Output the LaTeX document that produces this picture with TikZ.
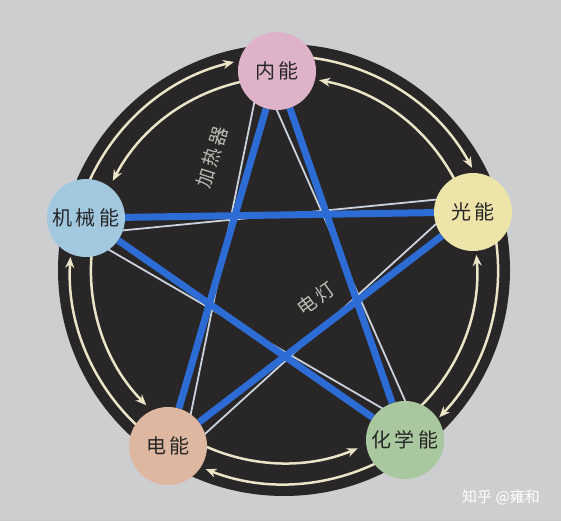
\documentclass[tikz,border=0pt]{standalone}
\usepackage{fontspec}
\newfontfamily\cjk[LetterSpace=16]{Noto Sans CJK SC}
\newfontfamily\cjkplain{Noto Sans CJK SC}
\usetikzlibrary{arrows.meta,calc}
\definecolor{paper}{HTML}{CCCECF}
\definecolor{disk}{HTML}{282626}
\definecolor{beamblue}{HTML}{2C6CD4}
\definecolor{raywhite}{HTML}{CAD2DE}
\definecolor{cream}{HTML}{EBE4C6}
\definecolor{taggray}{HTML}{BCBCB4}
\definecolor{neifill}{HTML}{DEB2C8}
\definecolor{guangfill}{HTML}{EDE4AA}
\definecolor{huafill}{HTML}{AAC8A0}
\definecolor{dianfill}{HTML}{DEB7A0}
\definecolor{jifill}{HTML}{A2C8E0}
\pgfdeclarelayer{bg}
\pgfsetlayers{bg,main}

\begin{document}
\begin{tikzpicture}[
x = 1pt, y = 1pt,
energy/.style={circle, minimum size = 78pt, inner sep = 0pt,
font = \cjk\fontsize{20}{20}\selectfont, text = black!85},
beam/.style={line width = 7, draw = beamblue},
ray/.style={line width = 1.8, draw = raywhite},
outarr/.style={>={Stealth[length=11pt,width=9pt]}, ->, line width = 2.5, draw = cream},
devlabel/.style={font = \cjk\fontsize{19}{19}\selectfont, text = taggray}]

\useasboundingbox (0,0) rectangle (561,521);
\coordinate (O) at (284,251);

\node[energy, fill = neifill] (nei) at (277,450) {内能};
\node[energy, fill = guangfill] (guang) at (473,309) {光能};
\node[energy, fill = huafill] (hua) at (405,81) {化学能};
\node[energy, fill = dianfill] (dian) at (168,75) {电能};
\node[energy, fill = jifill] (ji) at (86,303) {机械能};

\node[devlabel, rotate = 72] (heater) at (212,364) {加热器};
\node[devlabel, rotate = 36] (lamp) at (316,222) {电灯};
\node[font = \cjkplain\fontsize{15}{15}\selectfont, text = white] (mark) at (501,24) {知乎 @雍和};

\begin{pgfonlayer}{bg}
\fill[paper] (0,0) rectangle (561,521);
\fill[disk] (O) circle[radius = 226];

% outer ring, clockwise
\draw[outarr] (O) ++(165:214) arc[start angle = 165, end angle = 103.5, radius = 214];
\draw[outarr] (O) ++(92:214) arc[start angle = 92, end angle = 28.5, radius = 214];
\draw[outarr] (O) ++(17:214) arc[start angle = 17, end angle = -43.5, radius = 214];
\draw[outarr] (O) ++(-55:214) arc[start angle = -55, end angle = -111.5, radius = 214];
\draw[outarr] (O) ++(237:214) arc[start angle = 237, end angle = 176.5, radius = 214];
% inner ring, counterclockwise
\draw[outarr] (O) ++(92:193) arc[start angle = 92, end angle = 152.5, radius = 193];
\draw[outarr] (O) ++(17:193) arc[start angle = 17, end angle = 79.5, radius = 193];
\draw[outarr] (O) ++(-55:193) arc[start angle = -55, end angle = 4.5, radius = 193];
\draw[outarr] (O) ++(-123:193) arc[start angle = -123, end angle = -67.5, radius = 193];
\draw[outarr] (O) ++(165:193) arc[start angle = 165, end angle = 224.5, radius = 193];

% star
\draw[ray] ($(ji)!16pt!-90:(guang)$) -- ($(guang)!16pt!-90:(ji)$);
\draw[ray] ($(nei)!16pt!-90:(dian)$) -- ($(dian)!16pt!-90:(nei)$);
\draw[ray] ($(nei)!16pt!-90:(hua)$) -- ($(hua)!16pt!-90:(nei)$);
\draw[ray] ($(ji)!16pt!-90:(hua)$) -- ($(hua)!16pt!-90:(ji)$);
\draw[ray] ($(guang)!16pt!-90:(dian)$) -- ($(dian)!16pt!-90:(guang)$);
\draw[beam] (ji) -- (guang);
\draw[beam] (nei) -- (dian);
\draw[beam] (nei) -- (hua);
\draw[beam] (ji) -- (hua);
\draw[beam] (guang) -- (dian);
\end{pgfonlayer}

\end{tikzpicture}
\end{document}
